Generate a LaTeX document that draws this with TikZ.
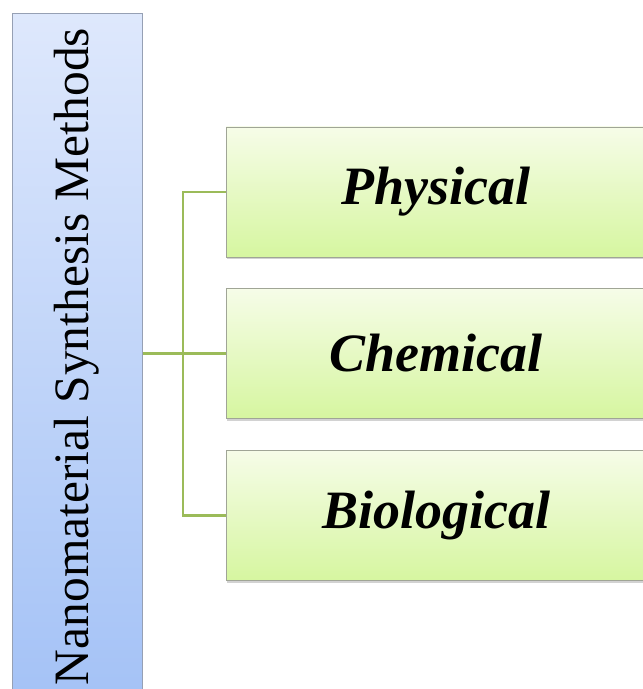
\documentclass[tikz,border=0pt]{standalone}
\usepackage{fontspec}
\setmainfont{Liberation Serif}
\usetikzlibrary{shadows}
\definecolor{bluetop}{RGB}{222,232,252}
\definecolor{bluebot}{RGB}{164,194,246}
\definecolor{blueedge}{RGB}{150,160,180}
\definecolor{greentop}{RGB}{246,252,232}
\definecolor{greenbot}{RGB}{214,246,160}
\definecolor{greenedge}{RGB}{160,165,150}
\definecolor{connc}{RGB}{155,187,89}
\tikzset{
  mainbox/.style={draw=blueedge, line width=0.8pt, top color=bluetop, bottom color=bluebot,
    minimum width=130pt, minimum height=690pt, inner sep=0pt, anchor=north west},
  catbox/.style={draw=greenedge, line width=0.8pt, top color=greentop, bottom color=greenbot,
    minimum width=420pt, minimum height=130pt, inner sep=0pt, anchor=west,
    drop shadow={shadow xshift=1pt, shadow yshift=-2.5pt, opacity=0.35},
    font=\fontsize{54}{60}\selectfont\bfseries\itshape},
  conn/.style={draw=connc, line width=2.6pt},
}
\begin{document}
\begin{tikzpicture}[x=1pt,y=1pt]
\useasboundingbox (0,0) rectangle (643,689);
\clip (0,0) rectangle (643,689);
\fill[white] (0,0) rectangle (643,689);
\node[mainbox] (m) at (12,676) {};
\node[rotate=90, font=\fontsize{49.5}{55}\selectfont, inner sep=0pt] (mt) at (77,332.5) {Nanomaterial Synthesis Methods};
\node[catbox] (p) at (226,497) {Physical};
\node[catbox] (c) at (226,335.5) {Chemical};
\node[catbox] (b) at (226,173.5) {Biological};
\coordinate (j) at (183,335.5);
\draw[conn] (p.west) -| (j) |- (b.west);
\draw[conn] (m.east |- c.west) -- (c.west);
\end{tikzpicture}
\end{document}
